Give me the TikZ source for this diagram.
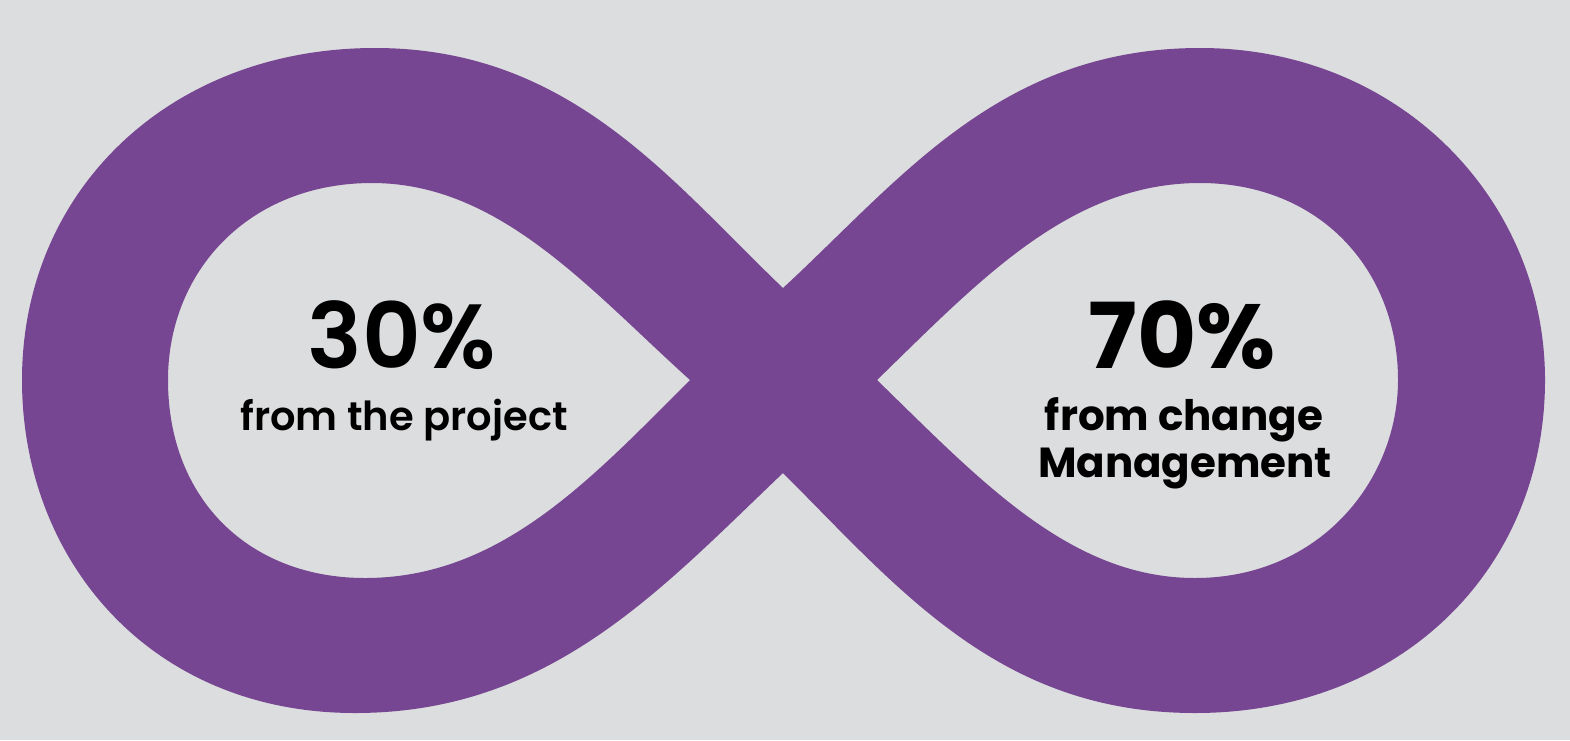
\documentclass[tikz,border=0pt]{standalone}
\usepackage{fontspec}
\setmainfont{Poppins}
\newfontfamily\popsemi{Poppins SemiBold}
\definecolor{bg}{RGB}{220,221,223}
\definecolor{inf}{RGB}{119,70,146}
\tikzset{
  bigtxt/.style={inner sep=0pt, anchor=base, text=black}
}
\begin{document}
\begin{tikzpicture}[x=1pt,y=-1pt]
\fill[bg] (0,0) rectangle (1570,740);
\useasboundingbox (0,0) rectangle (1570,740);
% infinity band
\fill[inf, even odd rule]
  (783,288) .. controls (900,180) and (1000,48) .. (1200,48)
  .. controls (1400,48) and (1545,200) .. (1545,380)
  .. controls (1545,570) and (1400,713) .. (1195,713)
  .. controls (1000,713) and (900,590) .. (783,473)
  .. controls (660,590) and (550,713) .. (355,713)
  .. controls (150,713) and (22,560) .. (22,380)
  .. controls (22,190) and (170,48) .. (375,48)
  .. controls (570,48) and (670,180) .. (783,288) -- cycle
  (690,380) .. controls (590,290) and (500,183) .. (372,183)
  .. controls (250,183) and (168,270) .. (168,380)
  .. controls (168,500) and (250,578) .. (365,578)
  .. controls (500,578) and (590,480) .. (690,380) -- cycle
  (877,380) .. controls (980,280) and (1070,183) .. (1200,183)
  .. controls (1320,183) and (1398,270) .. (1398,380)
  .. controls (1398,480) and (1320,578) .. (1195,578)
  .. controls (1070,578) and (980,480) .. (877,380) -- cycle;
% texts
\node[bigtxt] (p30) at (402,368) {\popsemi\fontsize{91}{91}\selectfont 30\%};
\node[bigtxt] (t30) at (404,430) {\popsemi\fontsize{40}{40}\selectfont from the project};
\node[bigtxt] (p70) at (1182,368) {\bfseries\fontsize{91}{91}\selectfont 70\%};
\node[bigtxt] (t70a) at (1184,430) {\bfseries\fontsize{42}{42}\selectfont from change};
\node[bigtxt] (t70b) at (1185,477) {\bfseries\fontsize{42}{42}\selectfont Management};
\end{tikzpicture}
\end{document}
